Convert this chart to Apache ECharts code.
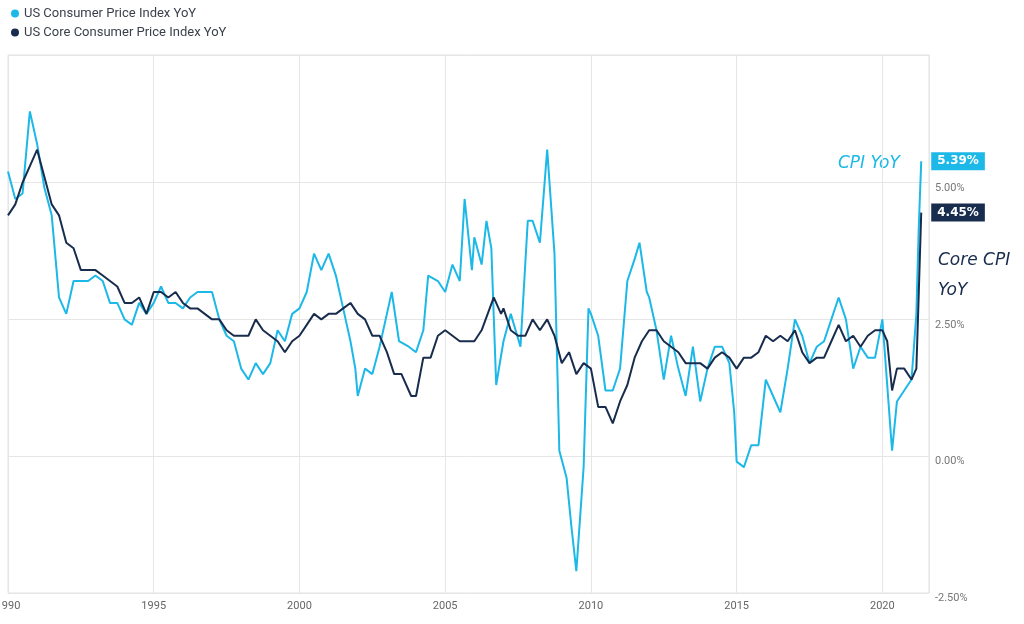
<!DOCTYPE html>
<html>
<head>
<meta charset="utf-8">
<script src="https://cdn.jsdelivr.net/npm/echarts@6/dist/echarts.min.js"></script>
<style>
  html, body { margin: 0; padding: 0; background: #fff; }
  #chart { width: 1024px; height: 624px; }
</style>
</head>
<body>
<div id="chart"></div>
<script>
// US CPI YoY, % (date 'YYYY-MM', value)
const cpiPoints = [
  ['1990-01',5.2],['1990-04',4.7],['1990-07',4.8],['1990-10',6.3],
  ['1991-01',5.7],['1991-04',4.9],['1991-07',4.4],['1991-10',2.9],
  ['1992-01',2.6],['1992-04',3.2],['1992-07',3.2],['1992-10',3.2],
  ['1993-01',3.3],['1993-04',3.2],['1993-07',2.8],['1993-10',2.8],
  ['1994-01',2.5],['1994-04',2.4],['1994-07',2.8],['1994-10',2.6],
  ['1995-01',2.8],['1995-04',3.1],['1995-07',2.8],['1995-10',2.8],
  ['1996-01',2.7],['1996-04',2.9],['1996-07',3.0],['1996-10',3.0],
  ['1997-01',3.0],['1997-04',2.5],['1997-07',2.2],['1997-10',2.1],
  ['1998-01',1.6],['1998-04',1.4],['1998-07',1.7],['1998-10',1.5],
  ['1999-01',1.7],['1999-04',2.3],['1999-07',2.1],['1999-10',2.6],
  ['2000-01',2.7],['2000-04',3.0],['2000-07',3.7],['2000-10',3.4],
  ['2001-01',3.7],['2001-04',3.3],['2001-07',2.7],['2001-10',2.1],['2001-12',1.6],
  ['2002-01',1.1],['2002-04',1.6],['2002-07',1.5],['2002-10',2.0],
  ['2003-01',2.6],['2003-03',3.0],['2003-06',2.1],['2003-10',2.0],
  ['2004-01',1.9],['2004-04',2.3],['2004-06',3.3],['2004-10',3.2],
  ['2005-01',3.0],['2005-04',3.5],['2005-07',3.2],['2005-09',4.7],['2005-12',3.4],
  ['2006-01',4.0],['2006-04',3.5],['2006-06',4.3],['2006-08',3.8],['2006-10',1.3],
  ['2007-01',2.1],['2007-04',2.6],['2007-08',2.0],['2007-11',4.3],
  ['2008-01',4.3],['2008-04',3.9],['2008-07',5.6],['2008-10',3.7],['2008-12',0.1],
  ['2009-03',-0.4],['2009-05',-1.3],['2009-07',-2.1],['2009-10',-0.2],['2009-12',2.7],
  ['2010-01',2.6],['2010-04',2.2],['2010-07',1.2],['2010-10',1.2],
  ['2011-01',1.6],['2011-04',3.2],['2011-07',3.6],['2011-09',3.9],['2011-12',3.0],
  ['2012-01',2.9],['2012-04',2.3],['2012-07',1.4],['2012-10',2.2],
  ['2013-01',1.6],['2013-04',1.1],['2013-07',2.0],['2013-10',1.0],
  ['2014-01',1.6],['2014-04',2.0],['2014-07',2.0],['2014-10',1.7],['2014-12',0.8],
  ['2015-01',-0.1],['2015-04',-0.2],['2015-07',0.2],['2015-10',0.2],
  ['2016-01',1.4],['2016-04',1.1],['2016-07',0.8],['2016-10',1.6],
  ['2017-01',2.5],['2017-04',2.2],['2017-07',1.7],['2017-10',2.0],
  ['2018-01',2.1],['2018-04',2.5],['2018-07',2.9],['2018-10',2.5],
  ['2019-01',1.6],['2019-04',2.0],['2019-07',1.8],['2019-10',1.8],
  ['2020-01',2.5],['2020-05',0.1],['2020-07',1.0],['2020-10',1.2],
  ['2021-01',1.4],['2021-03',2.6],['2021-04',4.2],['2021-05',5.39]
];

// US Core CPI YoY, %
const corePoints = [
  ['1990-01',4.4],['1990-04',4.6],['1990-07',5.0],['1990-10',5.3],
  ['1991-01',5.6],['1991-04',5.1],['1991-07',4.6],['1991-10',4.4],
  ['1992-01',3.9],['1992-04',3.8],['1992-07',3.4],['1992-10',3.4],
  ['1993-01',3.4],['1993-04',3.3],['1993-07',3.2],['1993-10',3.1],
  ['1994-01',2.8],['1994-04',2.8],['1994-07',2.9],['1994-10',2.6],
  ['1995-01',3.0],['1995-04',3.0],['1995-07',2.9],['1995-10',3.0],
  ['1996-01',2.8],['1996-04',2.7],['1996-07',2.7],['1996-10',2.6],
  ['1997-01',2.5],['1997-04',2.5],['1997-07',2.3],['1997-10',2.2],
  ['1998-01',2.2],['1998-04',2.2],['1998-07',2.5],['1998-10',2.3],
  ['1999-01',2.2],['1999-04',2.1],['1999-07',1.9],['1999-10',2.1],
  ['2000-01',2.2],['2000-04',2.4],['2000-07',2.6],['2000-10',2.5],
  ['2001-01',2.6],['2001-04',2.6],['2001-07',2.7],['2001-10',2.8],
  ['2002-01',2.6],['2002-04',2.5],['2002-07',2.2],['2002-10',2.2],
  ['2003-01',1.9],['2003-04',1.5],['2003-07',1.5],['2003-11',1.1],
  ['2004-01',1.1],['2004-04',1.8],['2004-07',1.8],['2004-10',2.2],
  ['2005-01',2.3],['2005-04',2.2],['2005-07',2.1],['2005-10',2.1],
  ['2006-01',2.1],['2006-04',2.3],['2006-09',2.9],['2006-12',2.6],
  ['2007-01',2.7],['2007-04',2.3],['2007-07',2.2],['2007-10',2.2],
  ['2008-01',2.5],['2008-04',2.3],['2008-07',2.5],['2008-10',2.2],
  ['2009-01',1.7],['2009-04',1.9],['2009-07',1.5],['2009-10',1.7],
  ['2010-01',1.6],['2010-04',0.9],['2010-07',0.9],['2010-10',0.6],
  ['2011-01',1.0],['2011-04',1.3],['2011-07',1.8],['2011-10',2.1],
  ['2012-01',2.3],['2012-04',2.3],['2012-07',2.1],['2012-10',2.0],
  ['2013-01',1.9],['2013-04',1.7],['2013-07',1.7],['2013-10',1.7],
  ['2014-01',1.6],['2014-04',1.8],['2014-07',1.9],['2014-10',1.8],
  ['2015-01',1.6],['2015-04',1.8],['2015-07',1.8],['2015-10',1.9],
  ['2016-01',2.2],['2016-04',2.1],['2016-07',2.2],['2016-10',2.1],
  ['2017-01',2.3],['2017-04',1.9],['2017-07',1.7],['2017-10',1.8],
  ['2018-01',1.8],['2018-04',2.1],['2018-07',2.4],['2018-10',2.1],
  ['2019-01',2.2],['2019-04',2.0],['2019-07',2.2],['2019-10',2.3],
  ['2020-01',2.3],['2020-03',2.1],['2020-05',1.2],['2020-07',1.6],['2020-10',1.6],
  ['2021-01',1.4],['2021-03',1.6],['2021-04',3.0],['2021-05',4.45]
];

const yearTicks = [1990, 1995, 2000, 2005, 2010, 2015, 2020];

const cpiColor = '#1cb8e8';
const coreColor = '#182d4e';

// 'YYYY-MM' -> fractional year
const toYear = d => {
  const [y, m] = d.split('-').map(Number);
  return y + (m - 1) / 12;
};

const chart = echarts.init(document.getElementById('chart'));

chart.setOption({
  animation: false,
  legend: {
    orient: 'vertical',
    left: 6,
    top: 2,
    itemGap: 6,
    icon: 'circle',
    itemWidth: 8,
    itemHeight: 8,
    textStyle: { color: '#3a3f4a', fontSize: 13, fontFamily: 'Roboto' },
    data: ['US Consumer Price Index YoY', 'US Core Consumer Price Index YoY']
  },
  grid: {
    left: 8, right: 95, top: 55, bottom: 31,
    outerBoundsMode: 'none',
    containLabel: false,
    show: true, borderColor: '#e2e2e2', borderWidth: 1
  },
  xAxis: {
    type: 'value',
    min: 1990,
    max: 2021.6,
    interval: 5,
    axisLine: { show: false },
    axisTick: { show: false },
    splitLine: { show: true, lineStyle: { color: '#e6e6e6' } },
    axisLabel: {
      color: '#666', fontSize: 11, fontFamily: 'Roboto',
      showMaxLabel: false,
      formatter: v => yearTicks.includes(v) ? String(v) : ''
    }
  },
  yAxis: {
    type: 'value',
    position: 'right',
    min: -2.5,
    max: 7.33,
    interval: 2.5,
    axisLine: { show: false },
    axisTick: { show: false },
    splitLine: { lineStyle: { color: '#e6e6e6' } },
    axisLabel: {
      color: '#777', fontSize: 11, fontFamily: 'Roboto',
      verticalAlign: 'top', margin: 6,
      showMaxLabel: false,
      formatter: v => v.toFixed(2) + '%'
    }
  },
  series: [
    {
      name: 'US Consumer Price Index YoY',
      type: 'line',
      showSymbol: false,
      color: cpiColor,
      lineStyle: { width: 2 },
      data: cpiPoints.map(p => [toYear(p[0]), p[1]]),
      endLabel: {
        show: true,
        formatter: p => p.value[1].toFixed(2) + '%',
        backgroundColor: cpiColor,
        color: '#fff',
        fontSize: 12,
        fontWeight: 'bold',
        fontFamily: 'DejaVu Sans',
        padding: [3, 6],
        distance: 10
      },
      z: 2
    },
    {
      name: 'US Core Consumer Price Index YoY',
      type: 'line',
      showSymbol: false,
      color: coreColor,
      lineStyle: { width: 2 },
      data: corePoints.map(p => [toYear(p[0]), p[1]]),
      endLabel: {
        show: true,
        formatter: p => p.value[1].toFixed(2) + '%',
        backgroundColor: coreColor,
        color: '#fff',
        fontSize: 12,
        fontWeight: 'bold',
        fontFamily: 'DejaVu Sans',
        padding: [3, 6],
        distance: 10
      },
      z: 3
    }
  ],
  graphic: [
    {
      type: 'text', left: 838, top: 155,
      style: { text: 'CPI YoY', fill: cpiColor, font: 'italic 17px "DejaVu Sans"' }
    },
    {
      type: 'text', left: 938, top: 246,
      style: { text: 'Core CPI\nYoY', fill: coreColor, font: 'italic 17px "DejaVu Sans"', lineHeight: 30 }
    }
  ]
});
</script>
</body>
</html>
